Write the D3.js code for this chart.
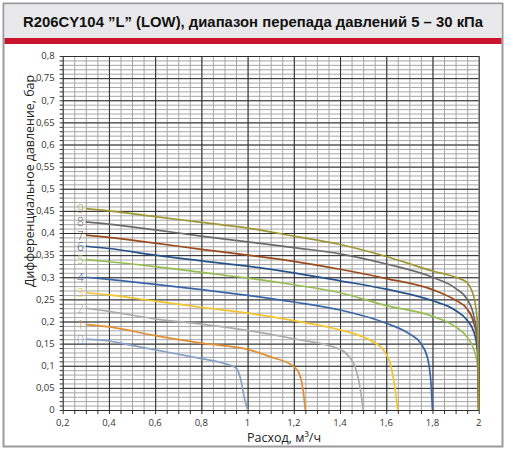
<!DOCTYPE html>
<html>
<head>
<meta charset="utf-8">
<script src="https://cdn.jsdelivr.net/npm/d3@7"></script>
<style>
  body { margin: 0; background: #fff; }
  .grid-minor line { stroke: #a6a6a6; stroke-width: 1; }
  .grid-major line { stroke: #2e2e2e; stroke-width: 1; }
  .tick-label { font-family: "Open Sans", sans-serif; font-size: 9.5px; fill: #333; }
  .axis-title { font-family: "Open Sans", sans-serif; font-size: 13.5px; fill: #222; }
  .curve { fill: none; stroke-width: 1.7; }
  .curve-label { font-family: "Open Sans", sans-serif; font-size: 12px; font-weight: 300; }
</style>
</head>
<body>
<div id="chart"></div>
<script>
// curves: [flow m3/h, pressure bar]
var curve0 = [[0.3,0.16],[0.4,0.156],[0.5,0.146],[0.6,0.136],[0.7,0.126],[0.8,0.116],[0.9,0.105],[0.95,0.095],[0.97,0.07],[0.985,0.03],[1.0,0]];
var curve1 = [[0.3,0.193],[0.4,0.188],[0.6,0.168],[0.8,0.151],[1.0,0.137],[1.1,0.12],[1.2,0.098],[1.225,0.08],[1.24,0.045],[1.25,0]];
var curve2 = [[0.3,0.23],[0.4,0.223],[0.6,0.206],[0.8,0.194],[1.0,0.18],[1.2,0.161],[1.4,0.137],[1.44,0.12],[1.47,0.09],[1.49,0.04],[1.5,0]];
var curve3 = [[0.3,0.265],[0.4,0.26],[0.6,0.246],[0.8,0.232],[1.0,0.219],[1.2,0.202],[1.4,0.181],[1.5,0.165],[1.55,0.152],[1.59,0.134],[1.62,0.1],[1.64,0.04],[1.65,0]];
var curve4 = [[0.3,0.30],[0.4,0.295],[0.6,0.284],[0.8,0.272],[1.0,0.259],[1.2,0.244],[1.4,0.226],[1.6,0.196],[1.7,0.172],[1.75,0.15],[1.78,0.115],[1.795,0.05],[1.8,0]];
var curve5 = [[0.3,0.34],[0.4,0.335],[0.6,0.324],[0.8,0.311],[1.0,0.298],[1.2,0.283],[1.4,0.265],[1.6,0.236],[1.8,0.212],[1.9,0.188],[1.95,0.165],[1.98,0.135],[1.995,0.1],[2.0,0]];
var curve6 = [[0.3,0.37],[0.4,0.365],[0.6,0.35],[0.8,0.337],[1.0,0.325],[1.2,0.31],[1.4,0.292],[1.6,0.273],[1.8,0.247],[1.9,0.225],[1.95,0.203],[1.98,0.175],[1.995,0.13],[2.0,0]];
var curve7 = [[0.3,0.395],[0.4,0.39],[0.6,0.377],[0.8,0.363],[1.0,0.35],[1.2,0.336],[1.4,0.318],[1.6,0.297],[1.8,0.272],[1.9,0.248],[1.95,0.228],[1.98,0.195],[1.995,0.15],[2.0,0]];
var curve8 = [[0.3,0.425],[0.4,0.42],[0.6,0.407],[0.8,0.393],[1.0,0.38],[1.2,0.367],[1.4,0.353],[1.6,0.33],[1.8,0.3],[1.9,0.275],[1.95,0.25],[1.98,0.21],[1.995,0.16],[2.0,0]];
var curve9 = [[0.3,0.455],[0.4,0.45],[0.6,0.437],[0.8,0.424],[1.0,0.411],[1.2,0.393],[1.4,0.374],[1.6,0.347],[1.8,0.314],[1.9,0.3],[1.95,0.288],[1.97,0.27],[1.985,0.24],[1.995,0.19],[2.0,0]];

var curves = [curve0, curve1, curve2, curve3, curve4, curve5, curve6, curve7, curve8, curve9];
var curveNames = ["0","1","2","3","4","5","6","7","8","9"];
var curveColors = ["#86a2c6","#e38d33","#acacac","#f2c531","#3a66a8","#94bd52","#27538a","#9a4a1c","#6b6b6b","#9e9734"];

var xTicks = [0.2,0.4,0.6,0.8,1,1.2,1.4,1.6,1.8,2];
var xTickLabels = ["0,2","0,4","0,6","0,8","1","1,2","1,4","1,6","1,8","2"];
var yTicks = [0,0.05,0.1,0.15,0.2,0.25,0.3,0.35,0.4,0.45,0.5,0.55,0.6,0.65,0.7,0.75,0.8];
var yTickLabels = ["0","0,05","0,1","0,15","0,2","0,25","0,3","0,35","0,4","0,45","0,5","0,55","0,6","0,65","0,7","0,75","0,8"];

var W = 508, H = 452;
var plot = { left: 62.7, right: 478.7, top: 56, bottom: 410 };

var svg = d3.select("#chart").append("svg")
    .attr("width", W)
    .attr("height", H);

// frame and header
svg.append("rect")
    .attr("x", 3.5).attr("y", 3.5)
    .attr("width", 499).attr("height", 443)
    .attr("fill", "#fff")
    .attr("stroke", "#9a9a9a")
    .attr("stroke-width", 2);
svg.append("rect")
    .attr("x", 4.5).attr("y", 4.5)
    .attr("width", 497).attr("height", 33.5)
    .attr("fill", "#e9e9eb");
svg.append("rect")
    .attr("x", 4.5).attr("y", 38)
    .attr("width", 497).attr("height", 6)
    .attr("fill", "#c8142f");
svg.append("text")
    .attr("x", 253).attr("y", 27)
    .attr("text-anchor", "middle")
    .attr("textLength", 460)
    .attr("lengthAdjust", "spacingAndGlyphs")
    .style("font-family", "'Liberation Sans', Arial, sans-serif")
    .style("font-size", "14.5px")
    .style("font-weight", "bold")
    .style("fill", "#111")
    .text("R206CY104 \u201dL\u201d (LOW), \u0434\u0438\u0430\u043f\u0430\u0437\u043e\u043d \u043f\u0435\u0440\u0435\u043f\u0430\u0434\u0430 \u0434\u0430\u0432\u043b\u0435\u043d\u0438\u0439 5 \u2013 30 \u043a\u041f\u0430");

var x = d3.scaleLinear().domain([0.2, 2]).range([plot.left, plot.right]);
var y = d3.scaleLinear().domain([0, 0.8]).range([plot.bottom, plot.top]);

var xMinor = d3.range(0.2, 2.0001, 0.05).map(function(d) { return +d.toFixed(2); });
var yMinor = d3.range(0, 0.8001, 0.01).map(function(d) { return +d.toFixed(2); });

// minor grid
svg.append("g")
    .attr("class", "grid-minor")
    .attr("transform", "translate(0," + plot.bottom + ")")
    .call(d3.axisBottom(x).tickValues(xMinor).tickSize(-(plot.bottom - plot.top)).tickFormat(""))
    .call(function(g) { g.select(".domain").remove(); });
svg.append("g")
    .attr("class", "grid-minor")
    .attr("transform", "translate(" + plot.left + ",0)")
    .call(d3.axisLeft(y).tickValues(yMinor).tickSize(-(plot.right - plot.left)).tickFormat(""))
    .call(function(g) { g.select(".domain").remove(); });

// outside tick marks
svg.append("g")
    .attr("class", "grid-major")
    .attr("transform", "translate(0," + plot.bottom + ")")
    .call(d3.axisBottom(x).tickValues(xMinor).tickSize(4).tickFormat(""))
    .call(function(g) { g.select(".domain").remove(); });
svg.append("g")
    .attr("class", "grid-major")
    .attr("transform", "translate(" + plot.left + ",0)")
    .call(d3.axisLeft(y).tickValues(yMinor).tickSize(3).tickFormat(""))
    .call(function(g) { g.select(".domain").remove(); });

// major grid
svg.append("g")
    .attr("class", "grid-major")
    .attr("transform", "translate(0," + plot.bottom + ")")
    .call(d3.axisBottom(x).tickValues(xTicks).tickSize(-(plot.bottom - plot.top)).tickFormat(""))
    .call(function(g) { g.select(".domain").remove(); });
svg.append("g")
    .attr("class", "grid-major")
    .attr("transform", "translate(" + plot.left + ",0)")
    .call(d3.axisLeft(y).tickValues(yTicks).tickSize(-(plot.right - plot.left)).tickFormat(""))
    .call(function(g) { g.select(".domain").remove(); });

// tick labels
svg.append("g").selectAll("text")
    .data(xTicks)
    .enter().append("text")
    .attr("class", "tick-label")
    .attr("x", function(d) { return x(d); })
    .attr("y", plot.bottom + 16)
    .attr("text-anchor", "middle")
    .text(function(d, i) { return xTickLabels[i]; });

svg.append("g").selectAll("text")
    .data(yTicks)
    .enter().append("text")
    .attr("class", "tick-label")
    .attr("x", plot.left - 8)
    .attr("y", function(d) { return y(d); })
    .attr("dy", "0.35em")
    .attr("text-anchor", "end")
    .text(function(d, i) { return yTickLabels[i]; });

// axis titles
svg.append("text")
    .attr("class", "axis-title")
    .attr("x", 284).attr("y", 442)
    .attr("text-anchor", "middle")
    .attr("textLength", 74)
    .attr("lengthAdjust", "spacingAndGlyphs")
    .text("\u0420\u0430\u0441\u0445\u043e\u0434, \u043c\u00b3/\u0447");

svg.append("text")
    .attr("class", "axis-title")
    .attr("transform", "translate(34,181) rotate(-90)")
    .attr("text-anchor", "middle")
    .attr("textLength", 212)
    .attr("lengthAdjust", "spacingAndGlyphs")
    .text("\u0414\u0438\u0444\u0444\u0435\u0440\u0435\u043d\u0446\u0438\u0430\u043b\u044c\u043d\u043e\u0435 \u0434\u0430\u0432\u043b\u0435\u043d\u0438\u0435, \u0431\u0430\u0440");

// curves
var line = d3.line()
    .x(function(d) { return x(d[0]); })
    .y(function(d) { return y(d[1]); })
    .curve(d3.curveMonotoneX);

svg.append("g").selectAll("path")
    .data(curves)
    .enter().append("path")
    .attr("class", "curve")
    .attr("stroke", function(d, i) { return curveColors[i]; })
    .attr("d", line);

svg.append("g").selectAll("text")
    .data(curves)
    .enter().append("text")
    .attr("class", "curve-label")
    .attr("x", function(d) { return x(d[0][0]) - 2; })
    .attr("y", function(d) { return y(d[0][1]); })
    .attr("dy", "0.36em")
    .attr("text-anchor", "end")
    .style("fill", function(d, i) { return curveColors[i]; })
    .text(function(d, i) { return curveNames[i]; });
</script>
</body>
</html>
